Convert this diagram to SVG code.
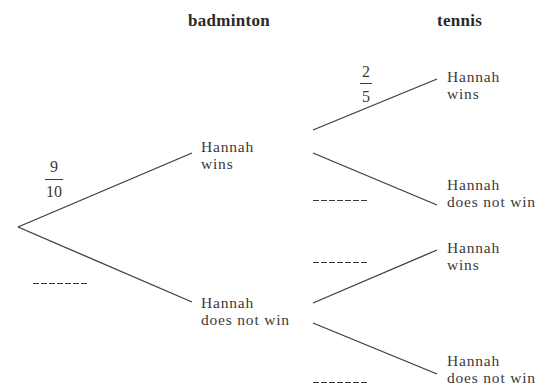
<svg xmlns="http://www.w3.org/2000/svg" width="551" height="386" viewBox="0 0 551 386">
<style>
.t{font-family:"Liberation Serif","Times New Roman",serif;font-size:15.5px;fill:#3a3a3a;letter-spacing:0.8px}
.h{font-family:"Liberation Serif","Times New Roman",serif;font-size:17px;font-weight:bold;fill:#2a2a2a;letter-spacing:0.3px}
.f{font-family:"Liberation Serif","Times New Roman",serif;font-size:16px;fill:#3a3a3a;text-anchor:middle}
.c line{stroke:#3c3c3c;stroke-width:1.3}
.bar{stroke:#3c3c3c;stroke-width:1}
.blank{stroke:#3c3c3c;stroke-width:1;stroke-dasharray:6 2}
</style>
<rect width="551" height="386" fill="#fff"/>
<g id="headers">
<text class="h" x="188" y="26">badminton</text>
<text class="h" x="437" y="26">tennis</text>
</g>
<g id="connectors" class="c">
<line x1="18" y1="227" x2="192" y2="153"/>
<line x1="18" y1="227" x2="192" y2="302"/>
<line x1="313" y1="130" x2="437" y2="79"/>
<line x1="313" y1="153" x2="437" y2="205"/>
<line x1="313" y1="303" x2="437" y2="250"/>
<line x1="313" y1="323" x2="437" y2="374"/>
</g>
<g id="prob-root-win">
<text class="f" x="54" y="172">9</text>
<line class="bar" x1="45" y1="179.5" x2="63" y2="179.5"/>
<text class="f" x="54" y="197">10</text>
</g>
<g id="prob-root-lose"><line class="blank" x1="33" y1="283.5" x2="88" y2="283.5"/></g>
<g id="prob-win-win">
<text class="f" x="366" y="77">2</text>
<line class="bar" x1="360" y1="83.5" x2="372" y2="83.5"/>
<text class="f" x="366" y="102">5</text>
</g>
<g id="prob-win-lose"><line class="blank" x1="313" y1="200.5" x2="368" y2="200.5"/></g>
<g id="prob-lose-win"><line class="blank" x1="313" y1="262.5" x2="368" y2="262.5"/></g>
<g id="prob-lose-lose"><line class="blank" x1="313" y1="382.5" x2="368" y2="382.5"/></g>
<g id="b-win"><text class="t" x="201" y="152">Hannah</text><text class="t" x="201" y="169">wins</text></g>
<g id="b-lose"><text class="t" x="201" y="308">Hannah</text><text class="t" x="201" y="325">does not win</text></g>
<g id="t-ww"><text class="t" x="447" y="82">Hannah</text><text class="t" x="447" y="99">wins</text></g>
<g id="t-wl"><text class="t" x="447" y="190">Hannah</text><text class="t" x="447" y="207">does not win</text></g>
<g id="t-lw"><text class="t" x="447" y="253">Hannah</text><text class="t" x="447" y="270">wins</text></g>
<g id="t-ll"><text class="t" x="447" y="366">Hannah</text><text class="t" x="447" y="383">does not win</text></g>
</svg>
